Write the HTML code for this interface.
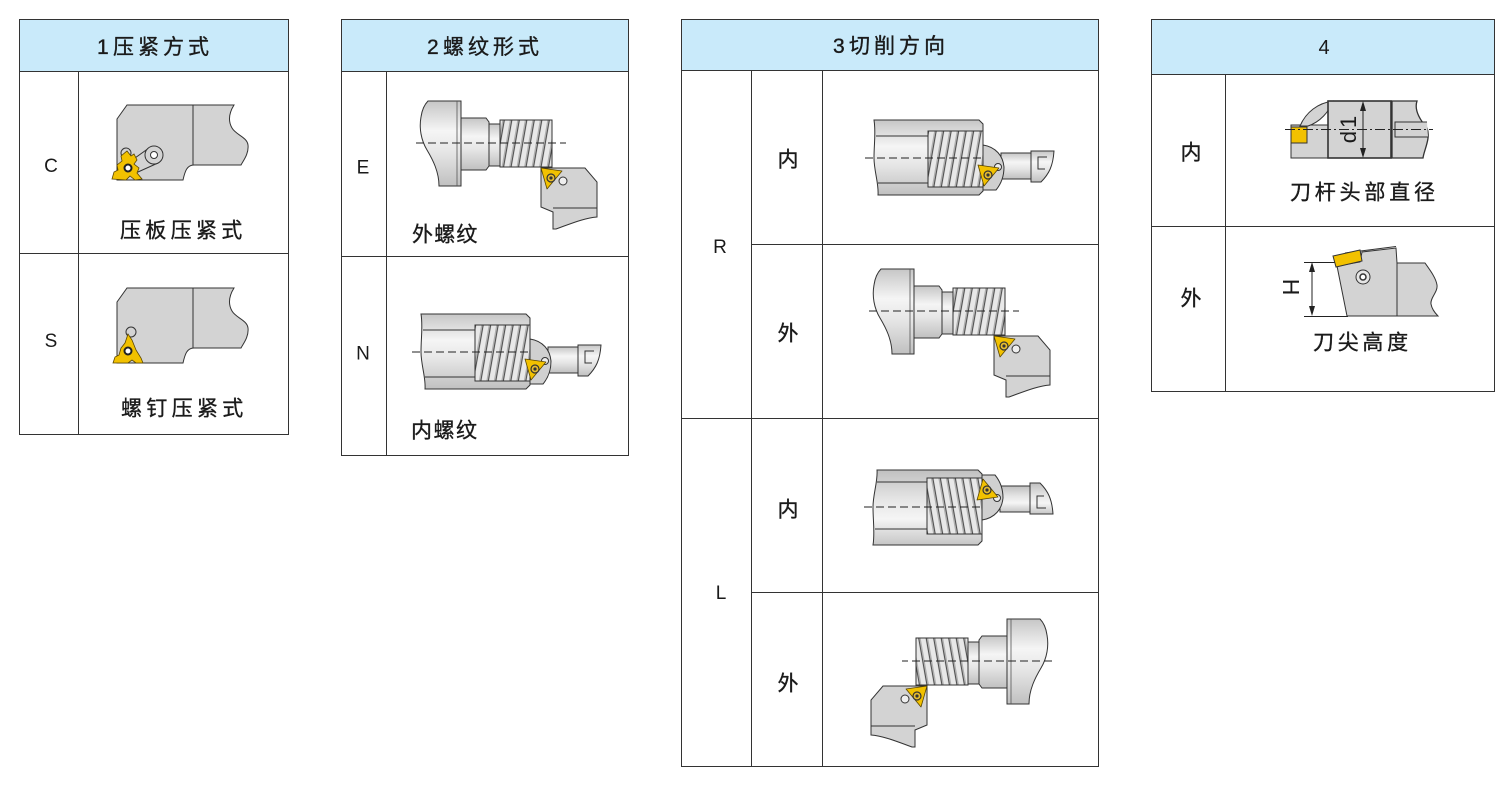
<!DOCTYPE html>
<html><head><meta charset="utf-8"><style>
html,body{margin:0;padding:0;background:#fff;}
svg{display:block;}
text{font-family:"Liberation Sans","Noto Sans CJK SC",sans-serif;fill:#1a1a1a;}
.c{stroke:#1a1a1a;stroke-width:0.35;}
</style></head><body>
<svg width="1511" height="786" viewBox="0 0 1511 786" xmlns="http://www.w3.org/2000/svg">
<defs>
<linearGradient id="cyl" x1="0" y1="0" x2="0" y2="1">
<stop offset="0" stop-color="#c6c6c6"/><stop offset="0.35" stop-color="#f5f5f5"/><stop offset="0.6" stop-color="#e6e6e6"/><stop offset="1" stop-color="#c0c0c0"/>
</linearGradient>
<pattern id="thr" width="7.5" height="20" patternUnits="userSpaceOnUse" patternTransform="skewX(-10)">
<rect width="7.5" height="20" fill="#b0b0b0"/><rect x="1.2" width="4.8" height="20" fill="#e8e8e8"/><line x1="0.5" y1="0" x2="0.5" y2="20" stroke="#444" stroke-width="0.9"/>
</pattern>
<g id="ins">
<path d="M-10,-10 L11,-7 L-4,11 Z" fill="#f2c100" stroke="#5a4600" stroke-width="0.8" stroke-linejoin="round"/>
<circle r="4" fill="#e6bd30" stroke="#333" stroke-width="1.2"/><circle r="1.6" fill="#333"/>
</g>
<g id="holder">
<path d="M127,105 L234,105 C229,113 228,121 232,128 C236,135 247,137 248,145 C249,154 243,161 241,165 L194,165 C187,165 185,171 183,180 L117,180 L117,119 Z" fill="#d3d3d3" stroke="#333" stroke-width="1"/>
<line x1="193" y1="105" x2="193" y2="165" stroke="#333" stroke-width="1"/>
</g>
<g id="ext">
<path d="M428,101 L461,101 L461,186 L439,186 C439,172 433,160 427,150 C421,140 419,128 421,117 C422,110 424,105 428,101 Z" fill="url(#cyl)" stroke="#333"/>
<line x1="457" y1="101" x2="457" y2="186" stroke="#555" stroke-width="0.8"/>
<path d="M461,118 L486,118 L489,122 L489,166 L486,170 L461,170 Z" fill="url(#cyl)" stroke="#333"/>
<rect x="489" y="124" width="11" height="42" fill="url(#cyl)" stroke="#333"/>
<rect x="500" y="120" width="52" height="47" fill="url(#thr)" stroke="#333"/>
<line x1="416" y1="143" x2="566" y2="143" stroke="#222" stroke-width="1" stroke-dasharray="8,4"/>
<path d="M541,168 L585,168 L597,182 L597,217 C584,218 570,224 556,229 L553,229 L553,212 L541,207 Z" fill="#d3d3d3" stroke="#333"/>
<line x1="553" y1="208" x2="597" y2="208" stroke="#333"/>
<circle cx="563" cy="181" r="4" fill="#eee" stroke="#333"/>
<use href="#ins" transform="translate(551,178)"/>
</g>
<g id="int">
<path d="M421,314 L526,314 L530,318 L530,385 L526,389 L425,389 C426,378 421,365 421,352 C421,338 423,326 421,314 Z" fill="url(#cyl)" stroke="#333"/>
<line x1="423" y1="330" x2="475" y2="330" stroke="#333"/>
<line x1="425" y1="377" x2="475" y2="377" stroke="#333"/>
<rect x="475" y="325" width="55" height="56" fill="url(#thr)" stroke="#333"/>
<rect x="548" y="347" width="30" height="26" fill="url(#cyl)" stroke="#333"/>
<path d="M530,339 C543,341 550,350 551,361 C551,370 548,378 543,384 L530,384 Z" fill="#d0d0d0" stroke="#333"/>
<path d="M578,345 L601,345 C600,360 596,368 588,376 L578,376 Z" fill="url(#cyl)" stroke="#333"/>
<path d="M594,351 L585,351 L585,363 L592,363" fill="none" stroke="#333"/>
<line x1="412" y1="352" x2="530" y2="352" stroke="#222" stroke-width="1" stroke-dasharray="8,4"/>
<circle cx="545" cy="361" r="3.5" fill="#eee" stroke="#333"/>
<use href="#ins" transform="translate(535,369)"/>
</g>
</defs>

<rect width="1511" height="786" fill="#fff"/>

<!-- TABLE 1 -->
<rect x="19.5" y="19.5" width="269" height="52" fill="#c9eafa"/>
<g stroke="#333" stroke-width="1" fill="none">
<rect x="19.5" y="19.5" width="269" height="415"/>
<line x1="19.5" y1="71.5" x2="288.5" y2="71.5"/>
<line x1="78.5" y1="71.5" x2="78.5" y2="434.5"/>
<line x1="19.5" y1="253.5" x2="288.5" y2="253.5"/>
</g>
<text y="54" font-size="21" class="c"><tspan x="97">1 </tspan><tspan x="113" letter-spacing="4">压紧方式</tspan></text>
<text x="51" y="172" font-size="19" text-anchor="middle">C</text>
<text x="51" y="347" font-size="19" text-anchor="middle">S</text>
<text x="120" y="237.5" font-size="21" letter-spacing="4.3" class="c">压板压紧式</text>
<text x="121" y="415.5" font-size="21" letter-spacing="4.3" class="c">螺钉压紧式</text>
<use href="#holder"/>
<circle cx="126" cy="153" r="5" fill="#d3d3d3" stroke="#333"/>
<path d="M128,163 L149,148 L158,163 L138,172 Z" fill="#d3d3d3" stroke="#333"/>
<circle cx="154" cy="155" r="9" fill="#d3d3d3" stroke="#333"/>
<circle cx="154" cy="155" r="3.5" fill="#fff" stroke="#333"/>
<path d="M112,179 L114,172 L118,170 L117,165 L122,161 L121,156 L127,151 L131,156 L134,154 L137,160 L134,164 L139,168 L137,173 L142,179 L135,180 L130,176 L126,180 Z" fill="#f2c100" stroke="#5a4600" stroke-width="0.8"/>
<circle cx="128" cy="168" r="3.5" fill="#fff" stroke="#222" stroke-width="2"/>
<use href="#holder" transform="translate(0,183)"/>
<circle cx="131" cy="332" r="5" fill="#d3d3d3" stroke="#333"/>
<path d="M113,363 L115,357 L119,355 L121,348 L125,343 L128,334 L132,340 L136,350 L141,358 L143,363 L136,363 L132,360 L128,363 Z" fill="#f2c100" stroke="#5a4600" stroke-width="0.8"/>
<circle cx="128" cy="351" r="3.5" fill="#fff" stroke="#222" stroke-width="2"/>

<!-- TABLE 2 -->
<rect x="341.5" y="19.5" width="287" height="52" fill="#c9eafa"/>
<g stroke="#333" stroke-width="1" fill="none">
<rect x="341.5" y="19.5" width="287" height="436"/>
<line x1="341.5" y1="71.5" x2="628.5" y2="71.5"/>
<line x1="386.5" y1="71.5" x2="386.5" y2="455.5"/>
<line x1="341.5" y1="256.5" x2="628.5" y2="256.5"/>
</g>
<text y="54" font-size="21" class="c"><tspan x="427">2 </tspan><tspan x="443" letter-spacing="4">螺纹形式</tspan></text>
<text x="363" y="173.5" font-size="19" text-anchor="middle">E</text>
<text x="363" y="359.5" font-size="19" text-anchor="middle">N</text>
<text x="412" y="241.5" font-size="21" letter-spacing="1.2" class="c">外螺纹</text>
<text x="411" y="437.5" font-size="21" letter-spacing="1.5" class="c">内螺纹</text>
<use href="#ext"/>
<use href="#int"/>

<!-- TABLE 3 -->
<rect x="681.5" y="19.5" width="417" height="51" fill="#c9eafa"/>
<g stroke="#333" stroke-width="1" fill="none">
<rect x="681.5" y="19.5" width="417" height="747"/>
<line x1="681.5" y1="70.5" x2="1098.5" y2="70.5"/>
<line x1="751.5" y1="70.5" x2="751.5" y2="766.5"/>
<line x1="822.5" y1="70.5" x2="822.5" y2="766.5"/>
<line x1="751.5" y1="244.5" x2="1098.5" y2="244.5"/>
<line x1="681.5" y1="418.5" x2="1098.5" y2="418.5"/>
<line x1="751.5" y1="592.5" x2="1098.5" y2="592.5"/>
</g>
<text y="53" font-size="21" class="c"><tspan x="833">3 </tspan><tspan x="849" letter-spacing="4">切削方向</tspan></text>
<text x="720" y="253" font-size="19" text-anchor="middle">R</text>
<text x="721" y="599" font-size="19" text-anchor="middle">L</text>
<text x="788" y="166.5" font-size="21" text-anchor="middle" class="c">内</text>
<text x="788" y="340.5" font-size="21" text-anchor="middle" class="c">外</text>
<text x="788" y="516.5" font-size="21" text-anchor="middle" class="c">内</text>
<text x="788" y="690.5" font-size="21" text-anchor="middle" class="c">外</text>
<use href="#int" transform="translate(453,-194)"/>
<use href="#ext" transform="translate(453,168)"/>
<use href="#int" transform="matrix(1,0,0,-1,452,859)"/>
<use href="#ext" transform="matrix(-1,0,0,1,1468,518)"/>

<!-- TABLE 4 -->
<rect x="1151.5" y="19.5" width="343" height="55" fill="#c9eafa"/>
<g stroke="#333" stroke-width="1" fill="none">
<rect x="1151.5" y="19.5" width="343" height="372"/>
<line x1="1151.5" y1="74.5" x2="1494.5" y2="74.5"/>
<line x1="1225.5" y1="74.5" x2="1225.5" y2="391.5"/>
<line x1="1151.5" y1="226.5" x2="1494.5" y2="226.5"/>
</g>
<text x="1324" y="54" font-size="20" text-anchor="middle">4</text>
<text x="1191" y="159.5" font-size="21" text-anchor="middle" class="c">内</text>
<text x="1191" y="305.5" font-size="21" text-anchor="middle" class="c">外</text>
<text x="1290" y="199.5" font-size="21" letter-spacing="3.8" class="c">刀杆头部直径</text>
<text x="1313" y="349.5" font-size="21" letter-spacing="3.7" class="c">刀尖高度</text>
<!-- inner d1 drawing -->
<rect x="1291" y="125" width="37" height="33" fill="#d3d3d3" stroke="#333"/>
<path d="M1300,126 C1306,112 1318,103 1333,101 C1329,112 1320,122 1308,126 Z" fill="#d3d3d3" stroke="#333"/>
<rect x="1328" y="101" width="63" height="57" fill="#d3d3d3" stroke="#333" stroke-width="1.6"/>
<path d="M1392,101 L1417,101 C1414,110 1420,120 1427,128 C1431,138 1424,150 1423,158 L1392,158 Z" fill="#d3d3d3" stroke="#333" stroke-width="1.3"/>
<path d="M1427,122 L1395,122 L1395,137 L1428,137" fill="#d3d3d3" stroke="#333"/>
<rect x="1291" y="127" width="16" height="16" fill="#f2c100" stroke="#333"/>
<line x1="1285" y1="129.5" x2="1433" y2="129.5" stroke="#222" stroke-dasharray="10,3,2,3"/>
<line x1="1363" y1="108" x2="1363" y2="151" stroke="#222"/>
<polygon points="1363,101 1360,111 1366,111" fill="#222"/>
<polygon points="1363,158 1360,148 1366,148" fill="#222"/>
<text transform="translate(1356,128) rotate(-90)" font-size="22" letter-spacing="3" text-anchor="middle">d1</text>
<!-- outer H drawing -->
<line x1="1304" y1="262.5" x2="1336" y2="262.5" stroke="#222"/>
<line x1="1304" y1="316.5" x2="1348" y2="316.5" stroke="#222"/>
<line x1="1312" y1="269" x2="1312" y2="310" stroke="#222"/>
<polygon points="1312,262 1309,272 1315,272" fill="#222"/>
<polygon points="1312,316 1309,306 1315,306" fill="#222"/>
<text transform="translate(1283,287) rotate(90)" font-size="23" text-anchor="middle">H</text>
<path d="M1337,266 L1360,262 L1362,252 L1396,248 L1397,263 L1425,263 C1430,270 1436,278 1437,285 C1438,292 1430,298 1431,304 C1432,310 1436,314 1438,316 L1347,316 Z" fill="#d3d3d3" stroke="#333"/>
<line x1="1345" y1="253" x2="1396" y2="246.5" stroke="#333"/>
<line x1="1397" y1="263" x2="1397" y2="316" stroke="#333"/>
<polygon points="1333,256 1360,250 1362,261 1336,267" fill="#f2c100" stroke="#333"/>
<circle cx="1363" cy="277" r="7" fill="#e5e5e5" stroke="#333"/>
<circle cx="1363" cy="277" r="3" fill="#fff" stroke="#333" stroke-width="1.5"/>
</svg>
</body></html>
